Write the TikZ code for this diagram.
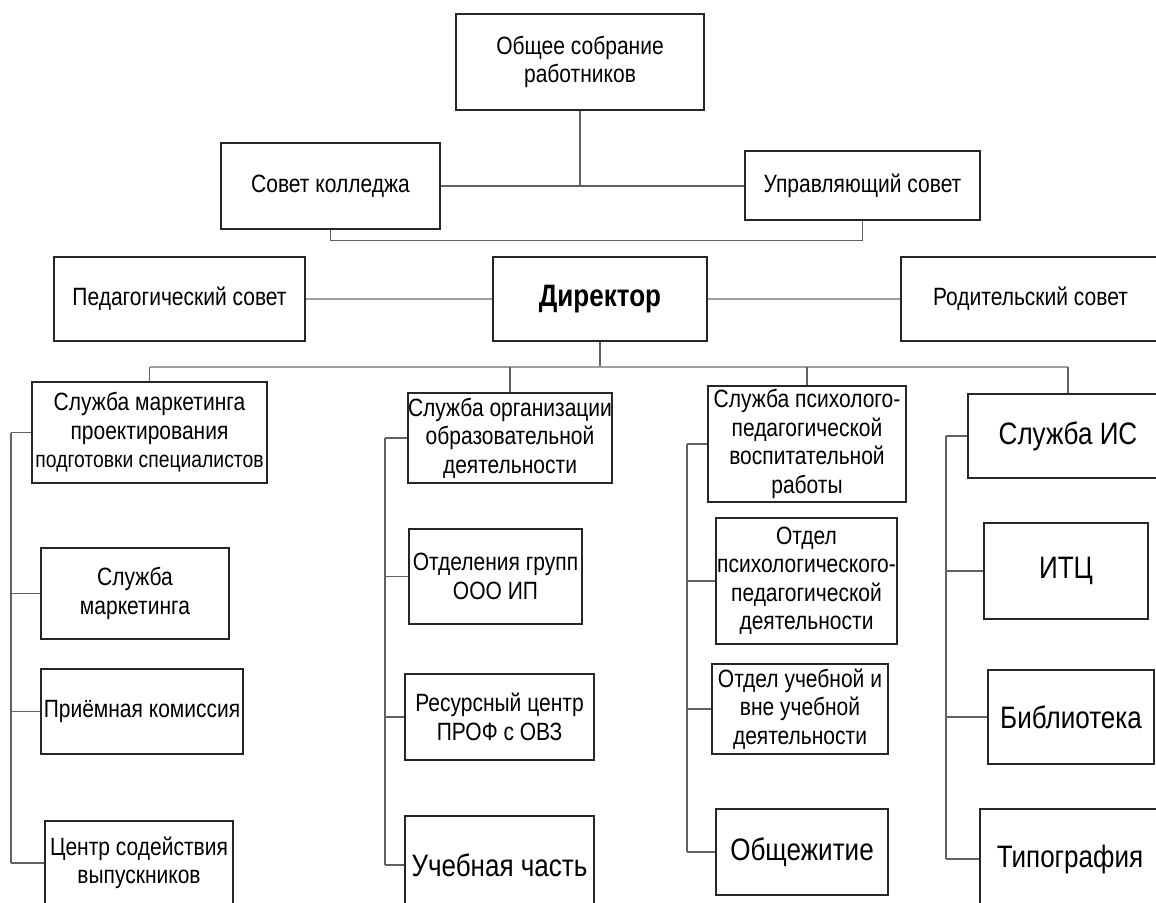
\documentclass[tikz,border=0pt]{standalone}
\usepackage{fontspec}
\setmainfont{Liberation Sans}[FakeStretch=0.84]
\definecolor{edgec}{gray}{0.15}
\definecolor{linec}{gray}{0.38}
\definecolor{softc}{gray}{0.62}
\begin{document}
\begin{tikzpicture}[x=1pt,y=-1pt,
  box/.style={draw=edgec,line width=1.6pt,inner sep=0pt,align=center,
              font=\fontsize{25}{28.5}\selectfont},
  % rectangle given by its corners (x1,y1) (x2,y2)
  span/.style n args={4}{minimum width={#3-#1},minimum height={#4-#2},
              at={({(#1+#3)/2},{(#2+#4)/2})}},
  bigtxt/.style={font=\fontsize{31}{34}\selectfont},
  boldtxt/.style={font=\fontsize{31}{34}\selectfont\bfseries},
  conn/.style={draw=linec,line width=1.3pt},
  soft/.style={draw=softc,line width=2.2pt}]
\useasboundingbox (0,0) rectangle (1156,902);
\clip (0,0) rectangle (1156,902);

% governing bodies
\node[box,span={456}{14}{704}{110}] (obsh) {Общее собрание\\работников};
\node[box,span={221}{143}{440}{229}] (sovet) {Совет колледжа};
\node[box,span={745}{151}{980}{220}] (upr) {Управляющий совет};
\node[box,span={54}{257}{305}{341}] (ped) {Педагогический совет};
\node[box,span={493}{257}{707}{341},boldtxt] (dir) {Директор};
\node[box,span={901}{257}{1160}{341}] (rod) {Родительский совет};

\coordinate (bus) at (600,367);

% column 1
\node[box,span={32}{382}{267}{483}] (m1)
  {Служба маркетинга\\проектирования\\{\fontsize{23}{28}\selectfont подготовки специалистов}};
\node[box,span={41}{548}{229}{639}] (m2) {Служба\\маркетинга};
\node[box,span={41}{669}{243}{754}] (m3) {Приёмная комиссия};
\node[box,span={45}{821}{233}{905}] (m4) {Центр содействия\\выпускников};
\coordinate (sp1) at (11,0);

% column 2
\node[box,span={409}{393}{611}{483}] (o1) {Служба организации\\образовательной\\деятельности};
\node[box,span={409}{529}{582}{624}] (o2) {Отделения групп\\ООО ИП};
\node[box,span={405}{674}{594}{760}] (o3) {Ресурсный центр\\ПРОФ с ОВЗ};
\node[box,span={405}{816}{594}{914},bigtxt] (o4) {Учебная часть};
\coordinate (sp2) at (385,0);

% column 3
\node[box,span={708}{386}{906}{502}] (p1) {Служба психолого-\\педагогической\\воспитательной\\работы};
\node[box,span={716}{518}{897}{644}] (p2) {Отдел\\психологического-\\педагогической\\деятельности};
\node[box,span={712}{664}{888}{754}] (p3) {Отдел учебной и\\вне учебной\\деятельности};
\node[box,span={716}{809}{888}{895},bigtxt] (p4) {Общежитие};
\coordinate (sp3) at (687,0);

% column 4
\node[box,span={968}{394}{1168}{478},bigtxt] (i1) {Служба ИС};
\node[box,span={984}{523}{1148}{619},bigtxt] (i2) {ИТЦ};
\node[box,span={988}{670}{1154}{764},bigtxt] (i3) {Библиотека};
\node[box,span={980}{809}{1160}{909},bigtxt] (i4) {Типография};
\coordinate (sp4) at (946,0);

% upper connectors
\draw[conn] (obsh.south) -- (obsh.south |- sovet.east);
\draw[conn] (sovet.east) -- (upr.west |- sovet.east);
\draw[conn] (sovet.south) -- ++(0,11) -| (upr.south);
\draw[soft] (ped.east) -- (dir.west);
\draw[soft] (dir.east) -- (rod.west);

% director to the four services
\draw[conn] (dir.south) -- (dir.south |- bus);
\draw[soft,line width=1.8pt] (m1.north |- bus) -- (i1.north |- bus);
\draw[conn] (m1.north) -- (m1.north |- bus);
\draw[conn] (o1.north) -- (o1.north |- bus);
\draw[conn] (p1.north) -- (p1.north |- bus);
\draw[conn] (i1.north) -- (i1.north |- bus);

% column spines and branches
\draw[conn] (m1.west -| sp1) -- (m4.west -| sp1);
\foreach \b in {m1,m2,m3,m4} \draw[conn] (\b.west) -- (\b.west -| sp1);
\draw[conn] (o1.west -| sp2) -- (o4.west -| sp2);
\foreach \b in {o1,o2,o3,o4} \draw[conn] (\b.west) -- (\b.west -| sp2);
\draw[conn] (p1.west -| sp3) -- (p4.west -| sp3);
\foreach \b in {p1,p2,p3,p4} \draw[conn] (\b.west) -- (\b.west -| sp3);
\draw[conn] (i1.west -| sp4) -- (i4.west -| sp4);
\foreach \b in {i1,i2,i3,i4} \draw[conn] (\b.west) -- (\b.west -| sp4);
\end{tikzpicture}
\end{document}
